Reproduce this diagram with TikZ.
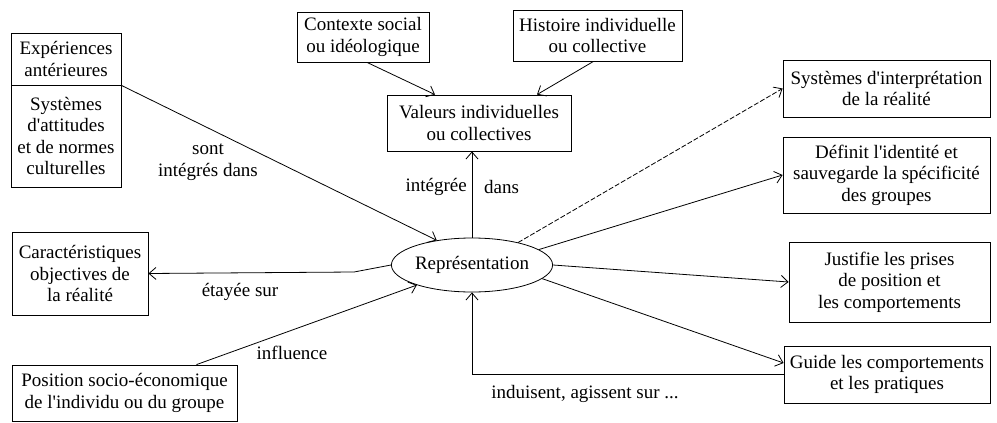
\documentclass[tikz,border=0pt]{standalone}
\usepackage{fontspec}
\setmainfont[Ligatures=TeXOff]{Liberation Serif}
\usetikzlibrary{arrows.meta,shapes.geometric}
\begin{document}
\begin{tikzpicture}[x=1pt,y=-1pt,
  every node/.style={font=\fontsize{19}{21.5}\selectfont, inner sep=0pt},
  box/.style={draw, line width=0.8pt, align=center, rectangle},
  lab/.style={align=center},
  arr/.style={line width=0.8pt, -{Straight Barb[length=7pt,width=12pt]}},
  ln/.style={line width=0.8pt}]
\useasboundingbox (0,0) rectangle (997,423);
% boxes
\node[box, minimum width=110pt, minimum height=52pt] (exp) at (66,59) {Expériences\\antérieures};
\node[box, minimum width=110pt, minimum height=102pt] (sys) at (66,136) {Systèmes\\d'attitudes\\et de normes\\culturelles};
\node[box, minimum width=132pt, minimum height=50pt] (ctx) at (363,37) {Contexte social\\ou idéologique};
\node[box, minimum width=169pt, minimum height=51pt] (hist) at (597.5,35.5) {Histoire individuelle\\ou collective};
\node[box, minimum width=184pt, minimum height=56pt] (val) at (479,123) {Valeurs individuelles\\ou collectives};
\node[box, minimum width=136pt, minimum height=83pt] (car) at (80,273.5) {Caractéristiques\\objectives de\\la réalité};
\node[box, minimum width=225pt, minimum height=56pt] (pos) at (124.5,393) {Position socio-économique\\de l'individu ou du groupe};
\node[draw, ellipse, line width=0.8pt, minimum width=151pt, minimum height=54pt] (rep) at (472,265) {Représentation};
\node[box, minimum width=207pt, minimum height=57pt] (si) at (886.5,88.5) {Systèmes d'interprétation\\de la réalité};
\node[box, minimum width=207pt, minimum height=76pt] (def) at (886.5,175) {Définit l'identité et\\sauvegarde la spécificité\\des groupes};
\node[box, minimum width=201pt, minimum height=80pt] (jus) at (889.5,282) {Justifie les prises\\de position et\\les comportements};
\node[box, minimum width=206pt, minimum height=57pt] (gui) at (887,374.5) {Guide les comportements\\et les pratiques};
% connectors
\draw[arr] (exp.south east) -- (rep.145);
\draw[arr] ([xshift=4pt]ctx.south) -- ([xshift=-44pt]val.north);
\draw[arr] ([xshift=-4pt]hist.south) -- ([xshift=58pt]val.north);
\draw[arr] (rep.north) -- (rep.north |- val.south);
\draw[arr] (rep.west) -- ++(-37,7) -- (car.east);
\draw[arr] ([xshift=72pt]pos.north) -- (rep.200);
\draw[arr] (gui.west) -- (rep.south |- gui.west) -- (rep.south);
\draw[arr, dashed, dash pattern=on 5pt off 2pt] (rep.26) -- (si.west);
\draw[arr] (rep.13) -- (def.west);
\draw[arr] (rep.east) -- (jus.west);
\draw[arr] (rep.-11) -- ([yshift=11.5pt]gui.west);
% labels
\node[lab] (l1) at (208,162) {sont\\intégrés dans};
\node[lab, anchor=east] (l2a) at (467,187) {intégrée};
\node[lab, anchor=west] (l2b) at (484,187) {dans};
\node[lab] (l3) at (240,292) {étayée sur};
\node[lab] (l4) at (292,353) {influence};
\node[lab] (l5) at (585,394) {induisent, agissent sur ...};
\end{tikzpicture}
\end{document}
